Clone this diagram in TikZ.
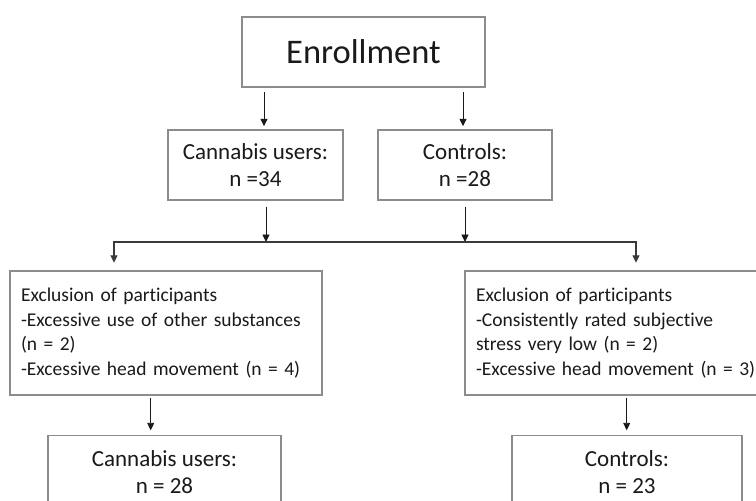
\documentclass[tikz,border=0pt]{standalone}
\usepackage{fontspec}
\setmainfont{Carlito}[Ligatures={NoCommon}]
\usetikzlibrary{arrows.meta}
\definecolor{boxgray}{HTML}{8C8C8C}
\definecolor{linegray}{HTML}{3A3A3A}
\definecolor{txt}{HTML}{1A1A1A}
\begin{document}
\begin{tikzpicture}[x=1pt,y=-1pt,
  box/.style={draw=boxgray, line width=1.5pt, inner sep=0pt, text=txt, align=center},
  bigbox/.style={box, font=\fontsize{34.5}{40}\selectfont},
  grpbox/.style={box, font=\fontsize{23}{27}\selectfont},
  exbox/.style={box, align=left, inner xsep=11pt, font=\fontsize{19.5}{24.4}\selectfont},
  arr/.style={draw=black!90, line width=0.9pt, -{Triangle[length=7.5pt,width=7pt]}},
  fork/.style={draw=linegray, line width=1.3pt, {Triangle[length=7.5pt,width=7pt]}-{Triangle[length=7.5pt,width=7pt]}}
]
\useasboundingbox (0,0) rectangle (756,501);
\fill[white] (0,0) rectangle (756,501);

% boxes
\node[bigbox, minimum width=243pt, minimum height=70pt] (enroll) at (363.5,52) {Enrollment};
\node[grpbox, minimum width=175pt, minimum height=70pt] (cu1) at (255.5,165) {Cannabis users:\\n =34};
\node[grpbox, minimum width=174pt, minimum height=70pt] (co1) at (465,165) {Controls:\\n =28};
\node[exbox, text width=290pt, minimum height=124pt] (ex1) at (166,333)
  {Exclusion of participants\\-Excessive use of other substances\\(n = 2)\\-Excessive head movement (n = 4)};
\node[exbox, text width=288pt, minimum height=124pt] (ex2) at (620,333)
  {Exclusion of participants\\-Consistently rated subjective\\stress very low (n = 2)\\-Excessive head movement (n = 3)};
\node[grpbox, minimum width=233pt, minimum height=73.5pt] (cu2) at (164.5,472.3) {Cannabis users:\\n = 28};
\node[grpbox, minimum width=230pt, minimum height=73.5pt] (co2) at (627,472.3) {Controls:\\n = 23};

% reference x positions
\coordinate (xa) at (264,0);
\coordinate (xb) at (463,0);
\coordinate (xc) at (266,0);
\coordinate (xd) at (465,0);
\coordinate (xe) at (150.7,0);
\coordinate (xf) at (626.7,0);
\coordinate (jl) at (114,242);
\coordinate (jr) at (636,242);
\coordinate (jc) at (266,242);
\coordinate (jd) at (465,242);

% connectors
\draw[arr, shorten <=4pt, shorten >=3pt] (enroll.south -| xa) -- (cu1.north -| xa);
\draw[arr, shorten <=4pt, shorten >=3pt] (enroll.south -| xb) -- (co1.north -| xb);
\draw[arr, shorten <=6pt] (cu1.south -| xc) -- (jc);
\draw[arr, shorten <=6pt] (co1.south -| xd) -- (jd);
\draw[fork, shorten <=7.5pt, shorten >=7.5pt] (ex1.north -| jl) -- (jl) -- (jr) -- (ex2.north -| jr);
\draw[arr, shorten <=2pt, shorten >=4.5pt] (ex1.south -| xe) -- (cu2.north -| xe);
\draw[arr, shorten <=2pt, shorten >=4.5pt] (ex2.south -| xf) -- (co2.north -| xf);
\end{tikzpicture}
\end{document}
